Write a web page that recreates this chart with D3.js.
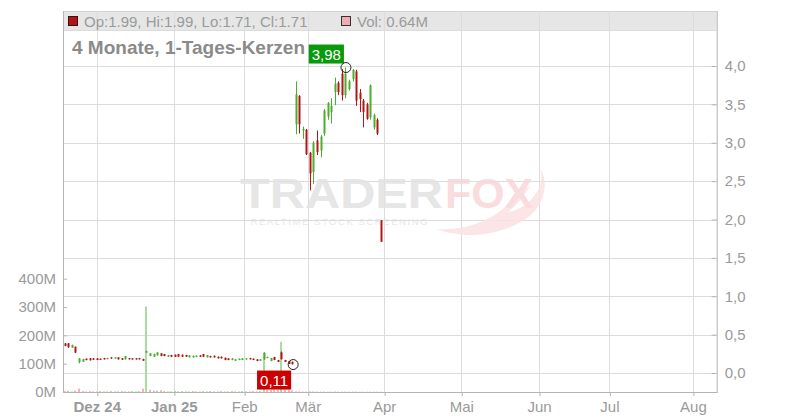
<!DOCTYPE html>
<html>
<head>
<meta charset="utf-8">
<script src="https://cdn.jsdelivr.net/npm/d3@7"></script>
<style>
  html, body { margin: 0; padding: 0; background: #fff; }
  svg { display: block; font-family: "Liberation Sans", Arial, sans-serif; }
</style>
</head>
<body>
<svg id="chart" width="800" height="420"></svg>
<script>
// ---------------- DATA ----------------
// slot index = trading-day position on the x axis
const openP  = [0.386,0.386,0.33,0.343,0.14,0.147,0.186,0.191,0.191,0.191,0.186,0.195,0.182,0.204,0.19,0.204,0.191,0.178,0.195,0.191,
                0.191,0.195,0.182,0.265,0.221,0.212,0.23,0.256,0.247,0.212,0.234,0.238,0.247,0.238,0.234,0.204,0.204,0.208,0.23,0.247,
                0.204,0.221,0.225,0.212,0.212,0.199,0.191,0.169,0.16,0.169,0.169,0.178,0.195,0.186,0.178,0.16,0.178,0.195,0.156,0.208,
                0.169,0.27,0.169,0.156,0.145,
                3.24,3.61,3.16,3.17,2.87,2.62,3.03,2.90,3.12,3.34,3.40,3.66,3.78,3.90,3.62,3.70,3.83,3.93,3.65,3.55,3.50,3.33,3.20,3.30,1.99];
const highP  = [0.39,0.39,0.37,0.345,0.195,0.185,0.19,0.193,0.193,0.192,0.188,0.197,0.197,0.206,0.206,0.206,0.193,0.222,0.197,0.193,
                0.193,0.197,0.184,0.29,0.258,0.25,0.27,0.258,0.249,0.236,0.236,0.24,0.249,0.24,0.236,0.232,0.228,0.228,0.232,0.249,
                0.236,0.223,0.227,0.214,0.214,0.201,0.193,0.193,0.18,0.188,0.193,0.193,0.197,0.188,0.18,0.18,0.27,0.212,0.197,0.21,
                0.171,0.28,0.171,0.158,0.15,
                3.80,3.62,3.21,3.18,2.88,3.02,3.16,3.10,3.44,3.53,3.58,3.85,3.80,3.96,3.98,3.82,3.96,3.95,3.70,3.57,3.52,3.76,3.38,3.32,1.99];
const lowP   = [0.35,0.33,0.33,0.26,0.126,0.145,0.165,0.163,0.17,0.168,0.17,0.176,0.18,0.185,0.188,0.176,0.171,0.176,0.176,0.176,
                0.176,0.176,0.158,0.26,0.22,0.21,0.228,0.22,0.219,0.21,0.21,0.21,0.21,0.21,0.21,0.202,0.2,0.206,0.21,0.21,
                0.202,0.202,0.202,0.189,0.189,0.167,0.167,0.167,0.158,0.167,0.167,0.176,0.176,0.167,0.154,0.158,0.17,0.193,0.154,0.167,
                0.143,0.176,0.143,0.118,0.11,
                3.11,3.12,3.05,2.84,2.38,2.46,2.84,2.81,3.09,3.30,3.25,3.49,3.62,3.55,3.58,3.68,3.80,3.48,3.40,3.20,3.30,3.30,3.17,3.10,1.71];
const closeP = [0.352,0.335,0.365,0.265,0.19,0.182,0.169,0.165,0.173,0.169,0.173,0.178,0.195,0.19,0.204,0.178,0.173,0.221,0.178,0.178,
                0.178,0.178,0.16,0.286,0.256,0.247,0.269,0.221,0.221,0.234,0.212,0.212,0.212,0.212,0.212,0.23,0.225,0.226,0.212,0.212,
                0.234,0.204,0.204,0.191,0.191,0.169,0.169,0.191,0.178,0.186,0.191,0.191,0.178,0.169,0.156,0.178,0.26,0.21,0.195,0.17,
                0.145,0.18,0.145,0.12,0.115,
                3.63,3.24,3.18,2.85,2.60,3.00,2.88,3.08,3.42,3.52,3.48,3.77,3.66,3.62,3.90,3.80,3.95,3.55,3.57,3.40,3.31,3.75,3.36,3.12,1.71];
// volume in millions
const volumeM = [3,4,2,5,12,3,2,3,2,2,3,2,2,3,2,2,3,2,2,3,
                 2,3,12,302,8,5,5,6,3,2,2,4,2,3,2,2,3,2,2,3,
                 2,3,2,2,3,2,2,3,2,2,3,2,2,3,2,3,140,8,7,8,
                 8,177,8,7,6,
                 2.5,1.8,1.2,1.5,2.2,1.9,1.4,1.1,1.6,1.3,1.0,1.7,1.2,1.5,1.4,0.9,1.1,1.3,1.0,0.9,0.8,1.0,0.7,0.8,0.64];

const priceTicks  = [0, 0.5, 1, 1.5, 2, 2.5, 3, 3.5, 4];
const volumeTicks = [0, 100, 200, 300, 400];
const monthLabels = ["Dez 24", "Jan 25", "Feb", "Mär", "Apr", "Mai", "Jun", "Jul", "Aug"];
const monthSlots  = [9, 30.7, 50.5, 68.4, 89.9, 111.6, 133.5, 153.3, 176.8];
const monthBold   = [true, true, false, false, false, false, false, false, false];
const titleText = "4 Monate, 1-Tages-Kerzen";

// ---------------- BUILD ----------------
const candles = openP.map((o, i) => ({
  i, o, h: highP[i], l: lowP[i], c: closeP[i], v: volumeM[i],
  volUp: i === 0 ? closeP[i] >= openP[i] : closeP[i] >= closeP[i - 1]
}));

const L = 63, R = 716.7, TOP = 11, HEAD_B = 30, BOT = 392;
const svg = d3.select("#chart");

const x  = d3.scaleLinear().domain([-0.5, 183.5]).range([L, R]);
const y  = d3.scaleLinear().domain([0, 4]).range([373, 66]);
const yv = d3.scaleLinear().domain([0, 400]).range([BOT, 278.7]);

const de = d3.formatLocale({decimal: ",", thousands: ".", grouping: [3], currency: ["", "€"]});
const fPrice = de.format(".1f");
const fLabel = de.format(".2f");

const GRID = "#dcdcdc", AXIS = "#b4b4b4", TXT = "#9a9a9a";
const UP = "#4cae2e", DOWN = "#b31616";
const AXFONT = 15;

// header band
svg.append("rect").attr("x", L).attr("y", TOP).attr("width", R - L).attr("height", HEAD_B - TOP).attr("fill", "#e6e6e6");
svg.append("line").attr("x1", L).attr("x2", R).attr("y1", TOP + 0.5).attr("y2", TOP + 0.5).attr("stroke", "#d2d2d2");
svg.append("line").attr("x1", L).attr("x2", R).attr("y1", HEAD_B + 0.5).attr("y2", HEAD_B + 0.5).attr("stroke", GRID);

// horizontal price gridlines
svg.append("g").selectAll("line").data(priceTicks).join("line")
  .attr("x1", L).attr("x2", R)
  .attr("y1", d => Math.round(y(d)) + 0.5).attr("y2", d => Math.round(y(d)) + 0.5)
  .attr("stroke", GRID);

// vertical month gridlines
svg.append("g").selectAll("line").data(monthSlots).join("line")
  .attr("x1", d => Math.round(x(d)) + 0.5).attr("x2", d => Math.round(x(d)) + 0.5)
  .attr("y1", TOP).attr("y2", BOT)
  .attr("stroke", GRID);

// watermark
const wm = svg.append("g").attr("opacity", 0.85);
wm.append("path")
  .attr("d", "M436,229 C462,231 490,222 506,206 C514,198 522,190 530,186 C524,196 516,206 508,212 C522,210 534,200 540,186 C542,180 542,174 540,168 C548,180 546,200 532,214 C516,228 490,236 466,235 C454,234 444,232 436,229 Z")
  .attr("fill", "#fbe1e2");
const wt = wm.append("text").attr("font-family", "Liberation Sans, Arial, sans-serif");
wt.append("tspan").attr("x", 240).attr("y", 207.5).attr("font-weight", "bold").attr("font-size", 42)
  .attr("textLength", 203).attr("lengthAdjust", "spacingAndGlyphs").attr("fill", "#e2e2e2").text("TRADER");
wt.append("tspan").attr("x", 445).attr("y", 207.5).attr("font-weight", "bold").attr("font-size", 42)
  .attr("textLength", 88).attr("lengthAdjust", "spacingAndGlyphs").attr("fill", "#f9d6d8").text("FOX");
wm.append("text").attr("x", 250.5).attr("y", 225.3).attr("font-size", 9.5)
  .attr("font-family", "Liberation Sans, Arial, sans-serif")
  .attr("textLength", 177).attr("lengthAdjust", "spacing").attr("fill", "#e4e4e4").text("REALTIME STOCK SCREENING");

// volume bars
svg.append("g").selectAll("rect").data(candles).join("rect")
  .attr("x", d => Math.round(x(d.i)) - 1)
  .attr("width", 2)
  .attr("y", d => yv(d.v))
  .attr("height", d => BOT - yv(d.v))
  .attr("fill", d => d.volUp ? "#a9dda0" : "#f2b1bb");

// candles
const cg = svg.append("g");
cg.selectAll("line").data(candles).join("line")
  .attr("x1", d => Math.round(x(d.i)) + 0.5).attr("x2", d => Math.round(x(d.i)) + 0.5)
  .attr("y1", d => y(d.h)).attr("y2", d => y(d.l))
  .attr("stroke", d => d.c >= d.o ? UP : DOWN).attr("stroke-width", 1);
cg.selectAll("rect").data(candles).join("rect")
  .attr("x", d => Math.round(x(d.i)) - 0.5)
  .attr("width", 2)
  .attr("y", d => y(Math.max(d.o, d.c)))
  .attr("height", d => Math.max(1.2, Math.abs(y(d.o) - y(d.c))))
  .attr("fill", d => d.c >= d.o ? UP : DOWN);

// axes
const axR = svg.append("g").attr("transform", `translate(${R},0)`)
  .call(d3.axisRight(y).tickValues(priceTicks).tickFormat(fPrice).tickSizeInner(-5).tickSizeOuter(0).tickPadding(8));
const axL = svg.append("g").attr("transform", `translate(${L},0)`)
  .call(d3.axisLeft(yv).tickValues(volumeTicks).tickFormat(d => d + "M").tickSizeInner(-4).tickSizeOuter(0).tickPadding(7));
const axB = svg.append("g").attr("transform", `translate(0,${BOT})`)
  .call(d3.axisBottom(x).tickValues(monthSlots).tickFormat((d, i) => monthLabels[i]).tickSizeInner(4).tickSizeOuter(0).tickPadding(5));

[axR, axL, axB].forEach(a => {
  a.select(".domain").remove();
  a.selectAll(".tick line").attr("stroke", AXIS);
  a.selectAll(".tick text").attr("fill", TXT).attr("font-size", AXFONT).attr("font-family", "Liberation Sans, Arial, sans-serif");
});
axB.selectAll(".tick text").attr("font-weight", (d, i) => monthBold[i] ? "bold" : "normal");
axB.selectAll(".tick line").attr("transform", "translate(0.5,0)");

// frame lines
svg.append("line").attr("x1", R + 0.5).attr("x2", R + 0.5).attr("y1", TOP).attr("y2", BOT).attr("stroke", AXIS);
svg.append("line").attr("x1", L + 0.5).attr("x2", L + 0.5).attr("y1", TOP).attr("y2", BOT).attr("stroke", AXIS);
svg.append("line").attr("x1", L).attr("x2", R + 1).attr("y1", BOT + 0.5).attr("y2", BOT + 0.5).attr("stroke", AXIS);

// header legend
const last = candles[candles.length - 1];
svg.append("rect").attr("x", 68.5).attr("y", 16.5).attr("width", 9).attr("height", 9)
  .attr("fill", "#b01414").attr("stroke", "#3a1010");
svg.append("text").attr("x", 84).attr("y", 26.5).attr("font-size", 15).attr("fill", TXT)
  .text(`Op:${last.o.toFixed(2)}, Hi:${last.h.toFixed(2)}, Lo:${last.l.toFixed(2)}, Cl:${last.c.toFixed(2)}`);
svg.append("rect").attr("x", 341.5).attr("y", 16.5).attr("width", 9).attr("height", 9)
  .attr("fill", "#f0aab4").attr("stroke", "#333");
svg.append("text").attr("x", 357).attr("y", 26.5).attr("font-size", 15).attr("fill", TXT)
  .text(`Vol: ${last.v.toFixed(2)}M`);

// title
svg.append("text").attr("x", 72).attr("y", 54).attr("font-size", 19).attr("font-weight", "bold")
  .attr("fill", "#8a8a8a").text(titleText);

// high / low markers
const hiC = candles.reduce((a, b) => b.h > a.h ? b : a);
const loC = candles.reduce((a, b) => b.l < a.l ? b : a);

function marker(cx, cy) {
  svg.append("circle").attr("cx", cx).attr("cy", cy).attr("r", 5)
    .attr("fill", "none").attr("stroke", "#222").attr("stroke-width", 1);
}
function tag(xr, yt, txt, col) {
  const g = svg.append("g");
  const t = g.append("text").attr("font-size", 15).attr("fill", "#fff").text(txt);
  const w = t.node().getComputedTextLength() + 6;
  g.insert("rect", "text").attr("x", xr - w).attr("y", yt).attr("width", w).attr("height", 19).attr("fill", col);
  t.attr("x", xr - w + 3).attr("y", yt + 15);
}
const hx = x(hiC.i) + 0.5, hy = y(hiC.h);
const lx = x(loC.i) + 1, ly = y(loC.l);
tag(hx - 2, hy - 23, fLabel(hiC.h), "#0a990a");
tag(lx - 2, ly + 6, fLabel(loC.l), "#cc0000");
marker(hx, hy);
marker(lx, ly);
</script>
</body>
</html>
